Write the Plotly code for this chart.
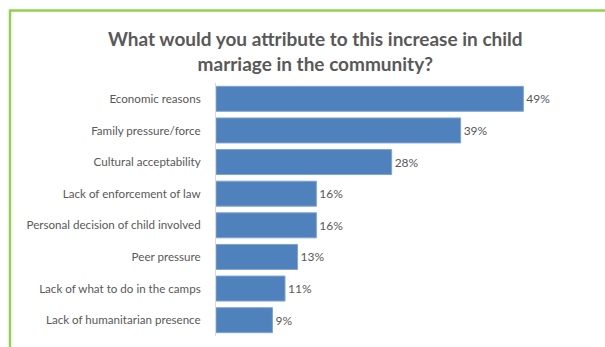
import plotly.graph_objects as go

# Survey responses, top to bottom
categories = [
    "Economic reasons",
    "Family pressure/force",
    "Cultural acceptability",
    "Lack of enforcement of law",
    "Personal decision of child involved",
    "Peer pressure",
    "Lack of what to do in the camps",
    "Lack of humanitarian presence",
]
values = [49, 39, 28, 16, 16, 13, 11, 9]
value_labels = [f"{v}%" for v in values]

title_text = "What would you attribute to this increase in child<br>marriage in the community?"

W, H = 605, 347
ML, MR, MT, MB = 216, 44, 83, 11
plot_w = W - ML - MR
plot_h = H - MT - MB


def px_to_paper_x(px):
    return (px - ML) / plot_w


def px_to_paper_y(py):
    return (H - MB - py) / plot_h


text_color = "#595959"
font_family = "Lato, Carlito, Calibri, sans-serif"

fig = go.Figure(
    go.Bar(
        x=values,
        y=categories,
        orientation="h",
        text=value_labels,
        textposition="outside",
        textfont=dict(color=text_color, size=12, family=font_family),
        marker=dict(color="#4F81BD", line=dict(color="#7FA3D3", width=1)),
        cliponaxis=False,
        hoverinfo="skip",
    )
)

green = "#92D050"
fig.update_layout(
    width=W,
    height=H,
    margin=dict(l=ML, r=MR, t=MT, b=MB),
    paper_bgcolor="white",
    plot_bgcolor="white",
    bargap=0.21,
    showlegend=False,
    xaxis=dict(range=[0, 55], visible=False, fixedrange=True),
    yaxis=dict(
        categoryorder="array",
        categoryarray=categories[::-1],
        showline=True,
        linecolor="#D9D9D9",
        linewidth=1,
        ticks="",
        ticklabelstandoff=12,
        tickfont=dict(color=text_color, size=11.6, family=font_family),
        showgrid=False,
        fixedrange=True,
    ),
    annotations=[
        dict(
            text="<b>" + title_text + "</b>",
            xref="paper",
            yref="paper",
            x=px_to_paper_x(315),
            y=px_to_paper_y(51),
            xanchor="center",
            yanchor="middle",
            showarrow=False,
            align="center",
            font=dict(color=text_color, size=19, family=font_family),
        )
    ],
    shapes=[
        dict(
            type="line", xref="paper", yref="paper",
            x0=px_to_paper_x(10), x1=px_to_paper_x(W + 5),
            y0=px_to_paper_y(10.5), y1=px_to_paper_y(10.5),
            line=dict(color=green, width=2.5), layer="above",
        ),
        dict(
            type="line", xref="paper", yref="paper",
            x0=px_to_paper_x(10), x1=px_to_paper_x(10),
            y0=px_to_paper_y(9.5), y1=px_to_paper_y(H + 5),
            line=dict(color=green, width=2.5), layer="above",
        ),
    ],
)

fig.write_html("out.html")
